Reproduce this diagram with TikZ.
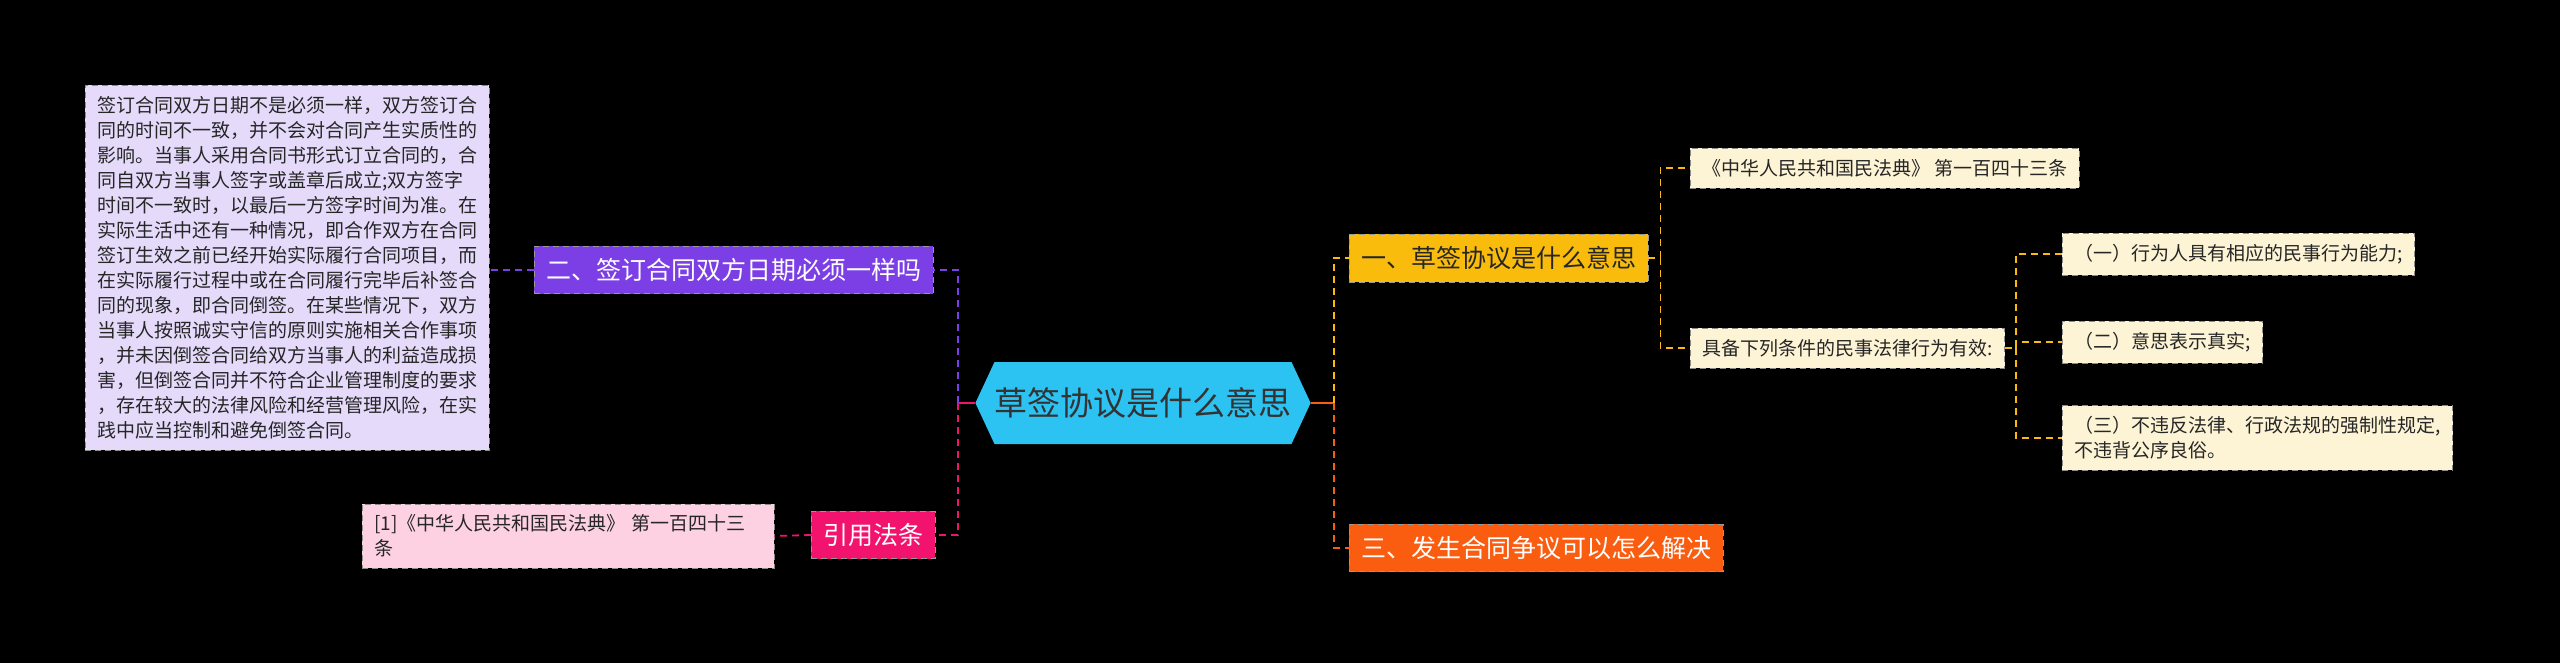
\documentclass[tikz,border=0pt]{standalone}
\usepackage{fontspec}
\setmainfont{Noto Sans CJK SC}
\usetikzlibrary{shapes.symbols}
\definecolor{ROOTC}{HTML}{2CC3F2}
\definecolor{PURP}{HTML}{7C3FE6}
\definecolor{ROSE}{HTML}{F2136E}
\definecolor{GOLD}{HTML}{F9BC0D}
\definecolor{FLAME}{HTML}{FA5C10}
\definecolor{LAV}{HTML}{E5DAFA}
\definecolor{BLUSH}{HTML}{FDD1E1}
\definecolor{CREAM}{HTML}{FDF3D5}
\tikzset{
  topic/.style={font=\fontsize{25}{30}\selectfont, text=white, inner xsep=12pt, inner ysep=12pt, draw=black!40, dash pattern=on 6pt off 4pt, anchor=west},
  leaf/.style={font=\fontsize{19}{25}\selectfont, text=black!85, align=left, inner xsep=12pt, inner ysep=11pt, draw=black!45, dash pattern=on 6pt off 4pt, anchor=west},
  link/.style={dash pattern=on 7pt off 5pt, line width=1.8pt}
}
\begin{document}
\begin{tikzpicture}[x=1pt,y=-1pt]
    \fill[black] (0,0) rectangle (2560,663);
    \useasboundingbox (0,0) rectangle (2560,663);
    % Root
    \node[shape=signal, signal to=west and east, signal pointer angle=130, fill=ROOTC, text=black!80, font=\fontsize{33}{38}\selectfont, minimum height=82pt, inner xsep=0pt] (root) at (1143,403) {草签协议是什么意思};
    \coordinate (spineL) at (958,0);
    \coordinate (spineR) at (1334,0);
    % Left side
    \node[topic, fill=PURP] (two) at (534,270) {二、签订合同双方日期必须一样吗};
    \node[leaf, fill=LAV, anchor=north west] (twotext) at (85,85) {签订合同双方日期不是必须一样，双方签订合\\同的时间不一致，并不会对合同产生实质性的\\影响。当事人采用合同书形式订立合同的，合\\同自双方当事人签字或盖章后成立;双方签字\\时间不一致时，以最后一方签字时间为准。在\\实际生活中还有一种情况，即合作双方在合同\\签订生效之前已经开始实际履行合同项目，而\\在实际履行过程中或在合同履行完毕后补签合\\同的现象，即合同倒签。在某些情况下，双方\\当事人按照诚实守信的原则实施相关合作事项\\，并未因倒签合同给双方当事人的利益造成损\\害，但倒签合同并不符合企业管理制度的要求\\，存在较大的法律风险和经营管理风险，在实\\践中应当控制和避免倒签合同。};
    \node[topic, fill=ROSE] (cite) at (811,535) {引用法条};
    \node[leaf, fill=BLUSH, anchor=west, text width=388pt] (citetext) at (362,536) {[1]《中华人民共和国民法典》 第一百四十三\\条};
    % Right side
    \node[topic, fill=GOLD, text=black!85] (one) at (1349,258) {一、草签协议是什么意思};
    \node[topic, fill=FLAME] (three) at (1349,548) {三、发生合同争议可以怎么解决};
    \node[leaf, fill=CREAM] (law) at (1690,168) {《中华人民共和国民法典》 第一百四十三条};
    \node[leaf, fill=CREAM] (cond) at (1690,348) {具备下列条件的民事法律行为有效:};
    \node[leaf, fill=CREAM] (c1) at (2062,254) {（一）行为人具有相应的民事行为能力;};
    \node[leaf, fill=CREAM] (c2) at (2062,342) {（二）意思表示真实;};
    \node[leaf, fill=CREAM] (c3) at (2062,438) {（三）不违反法律、行政法规的强制性规定,\\不违背公序良俗。};
    % Connectors
    \draw[link, ROSE, solid] (root.west) -- (root.west -| spineL);
    \draw[link, PURP] (root.west -| spineL) |- (two.east);
    \draw[link, ROSE] (root.west -| spineL) |- (cite.east);
    \draw[link, PURP] (two.west) -- (twotext.east |- two.west);
    \draw[link, ROSE] (cite.west) -- (citetext.east);
    \draw[link, FLAME, solid] (root.east) -- (root.east -| spineR);
    \draw[link, GOLD] (root.east -| spineR) |- (one.west);
    \draw[link, FLAME] (root.east -| spineR) |- (three.west);
    \draw[link, GOLD] (one.east) -- ++(12,0) coordinate (spineA) |- (law.west);
    \draw[link, GOLD] (spineA) |- (cond.west);
    \draw[link, GOLD] (cond.east) -- ++(11,0) coordinate (spineB) |- (c1.west);
    \draw[link, GOLD] (spineB) |- (c2.west);
    \draw[link, GOLD] (spineB) |- (c3.west);
\end{tikzpicture}
\end{document}
